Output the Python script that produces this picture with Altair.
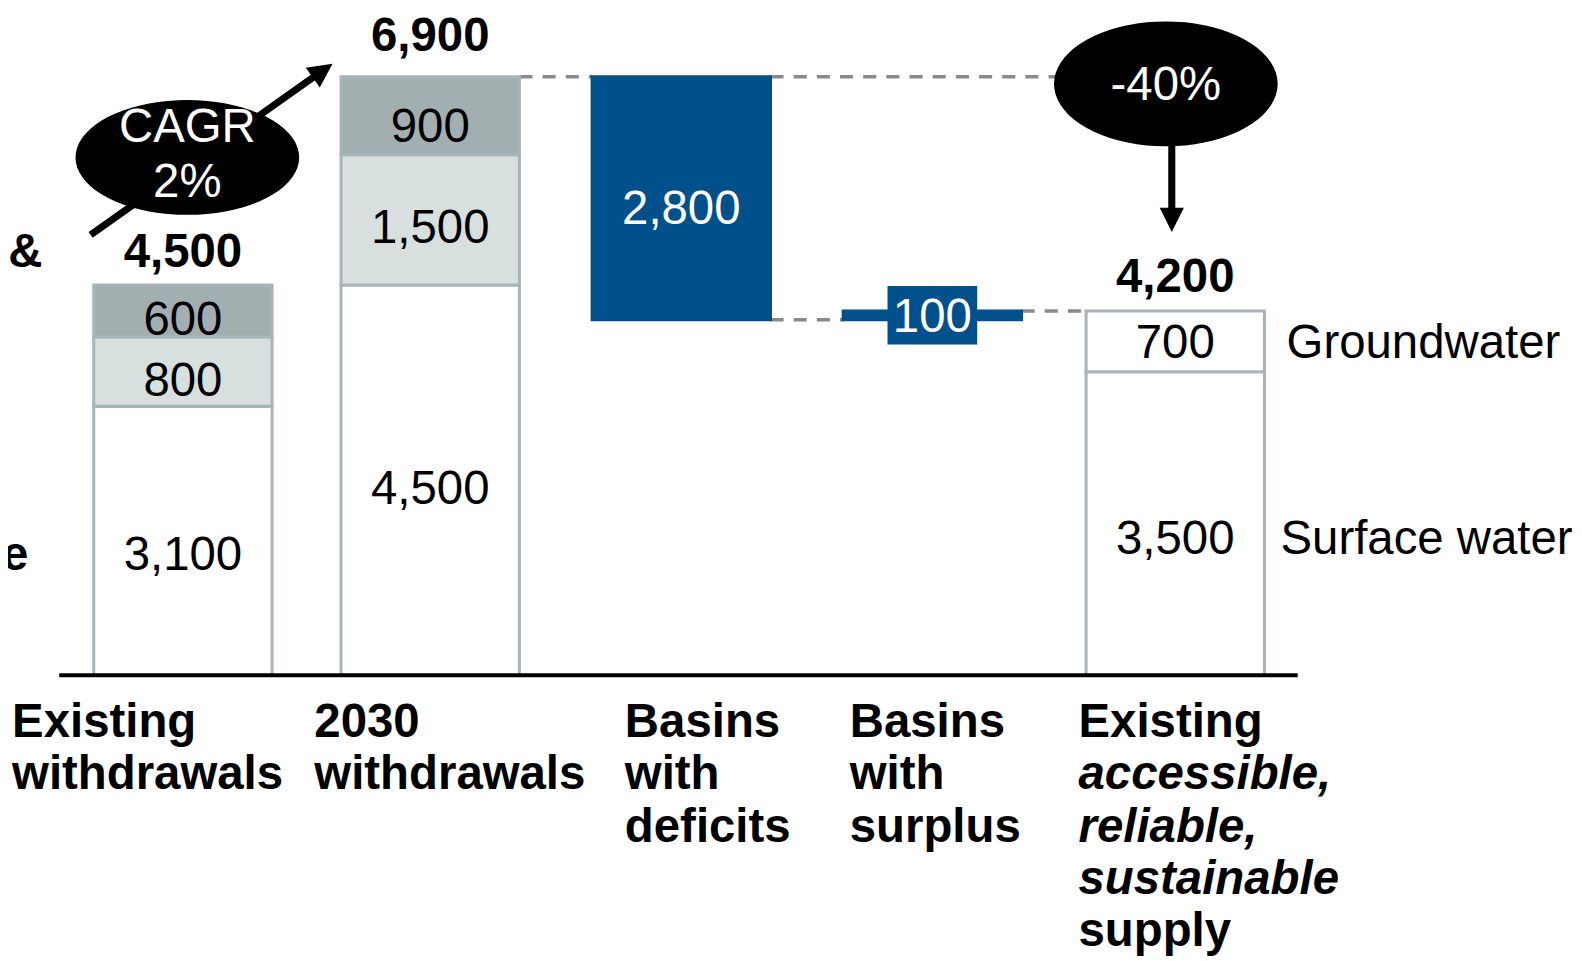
import math
import altair as alt
import pandas as pd

# ---------------- data ----------------
categories = ["Existing withdrawals", "2030 withdrawals", "Basins with deficits",
              "Basins with surplus", "Existing accessible, reliable, sustainable supply"]
existing_values = [3100, 800, 600]
future_values = [4500, 1500, 900]
deficit_value = 2800
surplus_value = 100
supply_values = [3500, 700]
totals = [4500, 6900, 4200]
supply_labels = ["Surface water", "Groundwater"]
side_labels = ["Municipal &", "Agriculture"]
cagr_text = ["CAGR", "2%"]
change_text = "-40%"
category_lines = [
    [("Existing", False), ("withdrawals", False)],
    [("2030", False), ("withdrawals", False)],
    [("Basins", False), ("with", False), ("deficits", False)],
    [("Basins", False), ("with", False), ("surplus", False)],
    [("Existing", False), ("accessible,", True), ("reliable,", True),
     ("sustainable", True), ("supply", False)],
]

# ---------------- layout / style ----------------
R = 0.99                 # picture px per CSS px
W, H = 1570, 953
PPS_REF = 245.5          # picture px per slot
PPU_REF = 0.08609        # picture px per unit
X0 = 181.5 / R - 8       # CSS plot x of slot 0
Y0 = 669 / R - 8         # CSS plot y of value 0
PPS = PPS_REF / R
PPU = PPU_REF / R
XDOM = [-X0 / PPS, (W - X0) / PPS]
YDOM = [-(H - Y0) / PPU, Y0 / PPU]
slots = [0, 1, 2.015, 3.03, 4.012]
HALF = 88.5 / PPS_REF
LABEL_DX = [-169.5, -115, -56, -82, -96]
LINE0, LINE_STEP = 61, 52
EXISTING_NUDGE = [15, 10, 10]
FUTURE_NUDGE = [10, 9.5, 12]
SUPPLY_NUDGE = [16, 2.5]
DEFICIT_NUDGE = 12
SURPLUS_NUDGE = 2.5
TOTAL_NUDGE = [18, 26, 19]
LEGEND_NUDGE = [16, 2.5]
LEGEND_DX = [16, 22]
FONT = "Liberation Sans"
FS = 47 / R
WHITE, LIGHT, DARK, EDGE, BLUE = "#ffffff", "#d8e0df", "#a3aeb1", "#a8b5b8", "#00508b"
DASH = "#8a8a8a"


def sx(px):
    return px / PPS_REF


def sy(px):
    return px / PPU_REF


def X(f="x"):
    return alt.X(f"{f}:Q", scale=alt.Scale(domain=XDOM, nice=False, zero=False), axis=None)


def Y(f="y"):
    return alt.Y(f"{f}:Q", scale=alt.Scale(domain=YDOM, nice=False, zero=False), axis=None)


# ---------------- segments ----------------
seg_rows = []


def add_stack(i, values, fills, nudges):
    base = 0
    for v, f, n in zip(values, fills, nudges):
        seg_rows.append(dict(x=slots[i] - HALF, x2=slots[i] + HALF, y=base, y2=base + v,
                             fill=f, stroke=EDGE, label=f"{v:,}", tcolor="black",
                             xc=slots[i], ymid=base + v / 2, ylab=base + v / 2 - sy(n)))
        base += v


add_stack(0, existing_values, [WHITE, LIGHT, DARK], EXISTING_NUDGE)
add_stack(1, future_values, [WHITE, LIGHT, DARK], FUTURE_NUDGE)
add_stack(4, supply_values, [WHITE, WHITE], SUPPLY_NUDGE)
deficit_bottom = totals[1] - deficit_value
dmid = (deficit_bottom + totals[1]) / 2
seg_rows.append(dict(x=slots[2] - HALF, x2=slots[2] + HALF, y=deficit_bottom, y2=totals[1],
                     fill=BLUE, stroke=BLUE, label=f"{deficit_value:,}", tcolor="white",
                     xc=slots[2], ymid=dmid, ylab=dmid - sy(DEFICIT_NUDGE)))
smid = deficit_bottom + surplus_value / 2
surplus_row = dict(x=slots[3] - HALF, x2=slots[3] + HALF, y=deficit_bottom,
                   y2=deficit_bottom + surplus_value, fill=BLUE, stroke=BLUE,
                   label=f"{surplus_value:,}", tcolor="white", xc=slots[3],
                   ymid=smid, ylab=smid - sy(SURPLUS_NUDGE))
seg_rows.append(surplus_row)
seg_df = pd.DataFrame(seg_rows)

rects = alt.Chart(seg_df).mark_rect(strokeWidth=3 / R).encode(
    x=X(), x2="x2:Q", y=Y(), y2="y2:Q",
    fill=alt.Fill("fill:N", scale=None), stroke=alt.Stroke("stroke:N", scale=None))

box_path = "M-1,-0.652 L1,-0.652 L1,0.652 L-1,0.652 Z"
surplus_box = alt.Chart(pd.DataFrame([surplus_row])).mark_point(
    shape=box_path, filled=True, fill=BLUE, opacity=1, strokeWidth=0, size=(89 / R) ** 2
).encode(x=X("xc"), y=Y("ymid"))

seg_text = alt.Chart(seg_df).mark_text(font=FONT, fontSize=FS, baseline="middle").encode(
    x=X("xc"), y=Y("ylab"), text="label:N", color=alt.Color("tcolor:N", scale=None))

# ---------------- totals ----------------
tot_df = pd.DataFrame(dict(x=[slots[0], slots[1], slots[4]],
                           y=[t + sy(n) for t, n in zip(totals, TOTAL_NUDGE)],
                           label=[f"{t:,}" for t in totals]))
tot_text = alt.Chart(tot_df).mark_text(font=FONT, fontSize=FS, fontWeight="bold",
                                       baseline="alphabetic", color="black").encode(
    x=X(), y=Y(), text="label:N")

# ---------------- connectors ----------------
ell2_x = slots[4] - 0.038
ell2_y = totals[1] - 82
dash_df = pd.DataFrame([
    dict(x=slots[1] + HALF, x2=slots[2] - HALF, y=totals[1]),
    dict(x=slots[2] + HALF, x2=ell2_x, y=totals[1]),
    dict(x=slots[2] + HALF, x2=slots[3] - HALF, y=deficit_bottom),
    dict(x=slots[3] + HALF, x2=slots[4] - HALF, y=totals[2]),
])
dashes = alt.Chart(dash_df).mark_rule(color=DASH, strokeWidth=3.5 / R,
                                      strokeDash=[13 / R, 10 / R]).encode(
    x=X(), x2="x2:Q", y=Y())

axis_df = pd.DataFrame([dict(x=slots[0] - 0.5, x2=slots[4] + 0.495, y=0)])
axis_line = alt.Chart(axis_df).mark_rule(color="black", strokeWidth=3.8 / R).encode(
    x=X(), x2="x2:Q", y=Y())

# ---------------- category labels ----------------
lab_rows = []
for i, lines in enumerate(category_lines):
    for j, (t, it) in enumerate(lines):
        lab_rows.append(dict(x=slots[i] + sx(LABEL_DX[i]), y=-sy(LINE0 + LINE_STEP * j),
                             text=t, italic=it))
lab_df = pd.DataFrame(lab_rows)
lab_norm = alt.Chart(lab_df[~lab_df.italic]).mark_text(
    font=FONT, fontSize=FS, fontWeight="bold", align="left", baseline="alphabetic",
    color="black").encode(x=X(), y=Y(), text="text:N")
lab_ital = alt.Chart(lab_df[lab_df.italic]).mark_text(
    font=FONT, fontSize=FS, fontWeight="bold", fontStyle="italic", align="left",
    baseline="alphabetic", color="black").encode(x=X(), y=Y(), text="text:N")

# ---------------- side labels ----------------
sup_mids = [r["ymid"] for r in seg_rows if r["xc"] == slots[4]]
leg_df = pd.DataFrame(dict(x=[slots[4] + HALF + sx(d) for d in LEGEND_DX],
                           y=[m - sy(n) for m, n in zip(sup_mids, LEGEND_NUDGE)],
                           text=supply_labels))
leg_text = alt.Chart(leg_df).mark_text(font=FONT, fontSize=FS, align="left", baseline="middle",
                                       color="black").encode(
    x=X(), y=Y(), text="text:N")

left_df = pd.DataFrame(dict(x=[slots[0] + sx(42 - 181.5), slots[0] + sx(28 - 181.5)],
                            y=[totals[0] + sy(18), existing_values[0] / 2 - sy(15)],
                            text=side_labels))
left_a = alt.Chart(left_df.iloc[[0]]).mark_text(
    font=FONT, fontSize=FS, fontWeight="bold", align="right", baseline="alphabetic",
    color="black").encode(x=X(), y=Y(), text="text:N")
left_b = alt.Chart(left_df.iloc[[1]]).mark_text(
    font=FONT, fontSize=FS, fontWeight="bold", align="right", baseline="middle",
    color="black").encode(x=X(), y=Y(), text="text:N")


# ---------------- annotations ----------------
def ellipse_path(ry, n=72):
    pts = [(math.cos(2 * math.pi * k / n), ry * math.sin(2 * math.pi * k / n)) for k in range(n)]
    return "M" + " L".join(f"{a:.4f},{b:.4f}" for a, b in pts) + " Z"


ell1_x = slots[0] + 0.018
ell1_y = totals[0] + 1470
# CAGR arrow
a1_x0, a1_y0 = slots[0] - 0.373, totals[0] + 576
a1_x1, a1_y1 = slots[1] - 0.395, totals[1] + 151
dpx = (a1_x1 - a1_x0) * PPS_REF
dpy = (a1_y1 - a1_y0) * PPU_REF
ln = math.hypot(dpx, dpy)
ang1 = math.degrees(math.atan2(dpx, dpy))
back = 12
a1_xe = a1_x1 - sx(dpx / ln * back)
a1_ye = a1_y1 - sy(dpy / ln * back)
# down arrow
a2_x = slots[4] - 0.014
a2_tip = totals[2] + 911

arrow_df = pd.DataFrame([
    dict(x=a1_x0, y=a1_y0, x2=a1_xe, y2=a1_ye),
    dict(x=a2_x, y=ell2_y, x2=a2_x, y2=a2_tip + sy(12)),
])
arrow_lines = alt.Chart(arrow_df).mark_rule(color="black", strokeWidth=7 / R).encode(
    x=X(), y=Y(), x2="x2:Q", y2="y2:Q")

HEAD = (24 / R) ** 2
head1 = alt.Chart(pd.DataFrame([dict(x=a1_x1, y=a1_y1)])).mark_point(
    shape="M0,0 L-1,2 L1,2 Z", filled=True, fill="black", opacity=1, strokeWidth=0,
    size=HEAD, angle=round(ang1, 2)).encode(x=X(), y=Y())
head2 = alt.Chart(pd.DataFrame([dict(x=a2_x, y=a2_tip)])).mark_point(
    shape="M0,0 L-1,-2 L1,-2 Z", filled=True, fill="black", opacity=1, strokeWidth=0,
    size=HEAD).encode(x=X(), y=Y())

ell1 = alt.Chart(pd.DataFrame([dict(x=ell1_x, y=ell1_y)])).mark_point(
    shape=ellipse_path(114 / 222), filled=True, fill="black", opacity=1, strokeWidth=0,
    size=(222 / R) ** 2).encode(x=X(), y=Y())
ell2 = alt.Chart(pd.DataFrame([dict(x=ell2_x, y=ell2_y)])).mark_point(
    shape=ellipse_path(124 / 222), filled=True, fill="black", opacity=1, strokeWidth=0,
    size=(222 / R) ** 2).encode(x=X(), y=Y())

ell1_text = alt.Chart(pd.DataFrame([dict(x=ell1_x, y=ell1_y + sy(29), t=cagr_text)])).mark_text(
    font=FONT, fontSize=FS, color="white", baseline="middle", lineHeight=54 / R).encode(
    x=X(), y=Y(), text="t")
ell2_text = alt.Chart(pd.DataFrame([dict(x=ell2_x, y=ell2_y - sy(2.5), t=change_text)])).mark_text(
    font=FONT, fontSize=FS, color="white", baseline="middle").encode(
    x=X(), y=Y(), text="t:N")

chart = alt.layer(
    dashes, rects, surplus_box, seg_text, tot_text, axis_line,
    lab_norm, lab_ital, leg_text, left_a, left_b,
    arrow_lines, head1, ell1, ell2, head2, ell1_text, ell2_text,
).properties(
    width=W, height=H, padding=0, autosize=alt.AutoSizeParams(type="none"),
    background="white",
).configure_view(stroke=None)

chart.save("out.html", embed_options={"renderer": "svg", "actions": False})
